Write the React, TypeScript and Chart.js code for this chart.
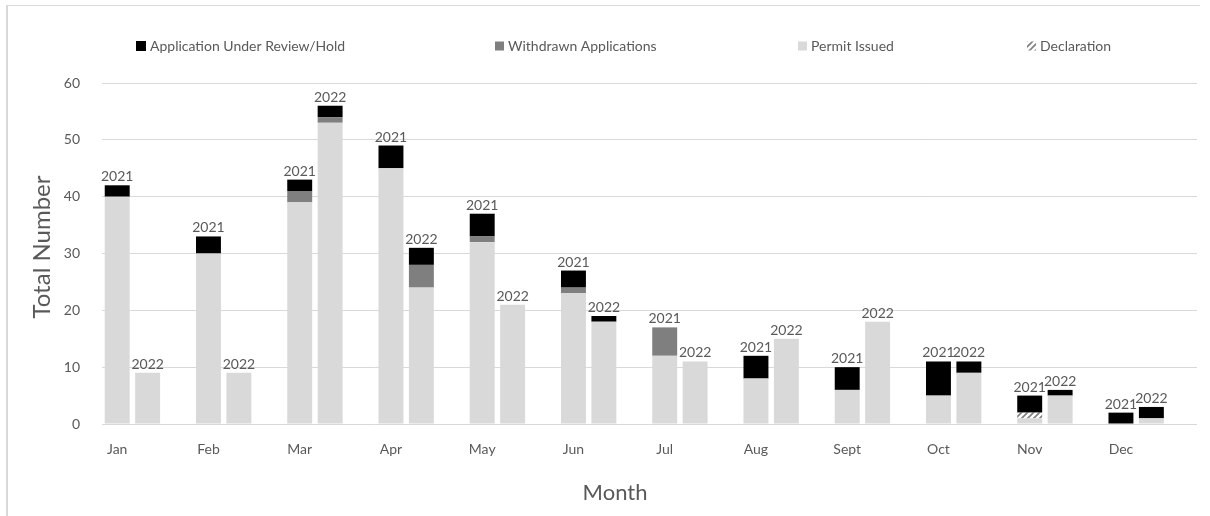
import React, { useEffect, useRef } from "react";
import { Chart, registerables } from "chart.js";

Chart.register(...registerables);

const months = ["Jan", "Feb", "Mar", "Apr", "May", "Jun", "Jul", "Aug", "Sept", "Oct", "Nov", "Dec"];
const yearLabels = ["2021", "2022"];

const permit2021 = [40, 30, 39, 45, 32, 23, 12, 8, 6, 5, 1, 0];
const withdrawn2021 = [0, 0, 2, 0, 1, 1, 5, 0, 0, 0, 0, 0];
const declaration2021 = [0, 0, 0, 0, 0, 0, 0, 0, 0, 0, 1, 0];
const review2021 = [2, 3, 2, 4, 4, 3, 0, 4, 4, 6, 3, 2];

const permit2022 = [9, 9, 53, 24, 21, 18, 11, 15, 18, 9, 5, 1];
const withdrawn2022 = [0, 0, 1, 4, 0, 0, 0, 0, 0, 0, 0, 0];
const declaration2022 = [0, 0, 0, 0, 0, 0, 0, 0, 0, 0, 0, 0];
const review2022 = [0, 0, 2, 3, 0, 1, 0, 0, 0, 2, 1, 2];

const yTickValues = [0, 10, 20, 30, 40, 50, 60];

const xTitle = "Month";
const yTitle = "Total Number";

const seriesNames = {
  review: "Application Under Review/Hold",
  withdrawn: "Withdrawn Applications",
  permit: "Permit Issued",
  declaration: "Declaration",
};

const FONT = "Lato, 'Liberation Sans', sans-serif";
const TEXT = "#595959";
const GRID = "#d9d9d9";

// Build 3 slots per month: 2021 bar, 2022 bar, empty gap
function slots(a: number[], b: number[]) {
  const out: (number | null)[] = [];
  for (let i = 0; i < a.length; i++) {
    out.push(a[i] === 0 ? null : a[i], b[i] === 0 ? null : b[i], null);
  }
  return out;
}
const slotLabels: string[] = [];
const slotYears: string[] = [];
months.forEach((m) => {
  slotLabels.push(m, "", "");
  slotYears.push(yearLabels[0], yearLabels[1], "");
});

function makeHatch(): CanvasPattern | string {
  const c = document.createElement("canvas");
  c.width = 6;
  c.height = 6;
  const g = c.getContext("2d");
  if (!g) return "#a0a0a0";
  g.fillStyle = "#ffffff";
  g.fillRect(0, 0, 6, 6);
  g.strokeStyle = "#7f7f7f";
  g.lineWidth = 1.6;
  g.beginPath();
  g.moveTo(-1, 7);
  g.lineTo(7, -1);
  g.moveTo(-4, 4);
  g.lineTo(4, -4);
  g.moveTo(2, 10);
  g.lineTo(10, 2);
  g.stroke();
  const p = g.createPattern(c, "repeat");
  return p || "#a0a0a0";
}

export default function App() {
  const ref = useRef<HTMLCanvasElement | null>(null);

  useEffect(() => {
    if (!ref.current) return;
    const hatch = makeHatch();

    const frame = {
      id: "frame",
      beforeDraw(chart: any) {
        const ctx = chart.ctx;
        ctx.save();
        ctx.fillStyle = "#ffffff";
        ctx.fillRect(0, 0, chart.width, chart.height);
        ctx.fillStyle = GRID;
        ctx.fillRect(6, 5, 2, chart.height - 5);
        ctx.fillRect(6, 5, 1194, 1);
        ctx.restore();
      },
    };

    const legendItems = [
      { name: seriesNames.review, color: "#000000", x: 136, size: 10 },
      { name: seriesNames.withdrawn, color: "#7f7f7f", x: 495, size: 9 },
      { name: seriesNames.permit, color: "#d9d9d9", x: 798, size: 9 },
      { name: seriesNames.declaration, color: hatch, x: 1027, size: 9 },
    ];

    const customLegend = {
      id: "customLegend",
      afterDraw(chart: any) {
        const ctx = chart.ctx;
        ctx.save();
        ctx.font = `14px ${FONT}`;
        ctx.textBaseline = "middle";
        ctx.textAlign = "left";
        const cy = 46;
        legendItems.forEach((it) => {
          ctx.fillStyle = it.color as any;
          ctx.fillRect(it.x, cy - it.size / 2, it.size, it.size);
          ctx.fillStyle = TEXT;
          ctx.fillText(it.name, it.x + it.size + 4, cy);
        });
        // axis titles
        ctx.font = `22px ${FONT}`;
        ctx.textAlign = "center";
        ctx.fillText(xTitle, 615, 493);
        ctx.translate(42, 247);
        ctx.rotate(-Math.PI / 2);
        ctx.font = `24px ${FONT}`;
        ctx.fillText(yTitle, 0, 0);
        ctx.restore();
      },
    };

    const yearTags = {
      id: "yearTags",
      afterDatasetsDraw(chart: any) {
        const ctx = chart.ctx;
        const yScale = chart.scales.y;
        const metas = chart.data.datasets.map((_: any, i: number) => chart.getDatasetMeta(i));
        ctx.save();
        ctx.font = `14px ${FONT}`;
        ctx.fillStyle = TEXT;
        ctx.textAlign = "center";
        ctx.textBaseline = "alphabetic";
        slotYears.forEach((yr, i) => {
          if (!yr) return;
          let total = 0;
          chart.data.datasets.forEach((ds: any) => {
            const v = ds.data[i];
            if (typeof v === "number") total += v;
          });
          const x = metas[0].data[i].x;
          const y = yScale.getPixelForValue(total);
          ctx.fillText(yr, x, y - 4);
        });
        ctx.restore();
      },
    };

    const chart = new Chart(ref.current, {
      type: "bar",
      data: {
        labels: slotLabels,
        datasets: [
          { label: seriesNames.permit, data: slots(permit2021, permit2022), backgroundColor: "#d9d9d9" },
          { label: seriesNames.withdrawn, data: slots(withdrawn2021, withdrawn2022), backgroundColor: "#7f7f7f" },
          { label: seriesNames.declaration, data: slots(declaration2021, declaration2022), backgroundColor: hatch as any },
          { label: seriesNames.review, data: slots(review2021, review2022), backgroundColor: "#000000" },
        ],
      },
      options: {
        responsive: false,
        animation: false,
        layout: { padding: { top: 83, left: 0, right: 13, bottom: 0 } },
        datasets: { bar: { categoryPercentage: 1, barPercentage: 0.82 } },
        plugins: {
          legend: { display: false },
          tooltip: { enabled: false },
        },
        scales: {
          x: {
            stacked: true,
            grid: { display: false },
            border: { display: false },
            ticks: {
              autoSkip: false,
              maxRotation: 0,
              padding: 9,
              color: TEXT,
              font: { family: FONT, size: 14 },
            },
            afterFit(scale: any) {
              scale.height = 92;
            },
          },
          y: {
            stacked: true,
            min: 0,
            max: 60,
            afterBuildTicks(scale: any) {
              scale.ticks = yTickValues.map((v) => ({ value: v }));
            },
            grid: { color: GRID, lineWidth: 1, drawTicks: false },
            border: { display: false },
            ticks: {
              padding: 22,
              color: TEXT,
              font: { family: FONT, size: 14 },
            },
            afterFit(scale: any) {
              scale.width = 102;
            },
          },
        },
      },
      plugins: [frame, yearTags, customLegend],
    });

    return () => chart.destroy();
  }, []);

  return (
    <div style={{ position: "absolute", left: 0, top: 0, width: 1210, height: 516, background: "#fff" }}>
      <canvas ref={ref} width={1210} height={516} />
    </div>
  );
}
